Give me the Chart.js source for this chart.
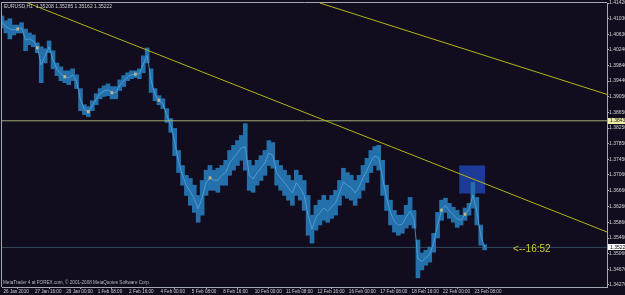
<!DOCTYPE html>
<html><head><meta charset="utf-8">
<script src="https://cdn.jsdelivr.net/npm/chart.js@4.4.0/dist/chart.umd.min.js"></script>
<style>html,body{margin:0;padding:0;background:#110d1f;overflow:hidden}canvas{display:block}</style>
</head><body><canvas id="c" width="625" height="295"></canvas>
<script>
// ---------- data ----------
const symbolTitle = "EURUSD,H1  1.35208 1.35285 1.35162 1.35222";
const copyright = "MetaTrader 4 at FOREX.com, \u00a9 2001-2008 MetaQuotes Software Corp.";
const timeLabels = ["26 Jan 2010","27 Jan 16:00","29 Jan 00:00","1 Feb 08:00","2 Feb 16:00","4 Feb 00:00","5 Feb 08:00","8 Feb 16:00","10 Feb 00:00","11 Feb 08:00","12 Feb 16:00","16 Feb 00:00","17 Feb 08:00","18 Feb 16:00","22 Feb 00:00","23 Feb 08:00"];
const timeLabelBars = [0,32,64,96,128,160,192,224,256,288,320,352,384,416,448,480];
const priceTicks = [1.4142,1.4103,1.4063,1.4024,1.3984,1.3944,1.3905,1.3865,1.3825,1.3785,1.3745,1.3706,1.3666,1.3626,1.3586,1.3546,1.3506,1.3467,1.3427];
// 4-hour high / low ranges, one entry every 4 H1 bars
const highs = [1.4109,1.4097,1.4102,1.4086,1.4086,1.4092,1.4076,1.4066,1.4061,1.4041,
1.4031,1.4026,1.4046,1.4021,1.3990,1.3980,1.3970,1.3970,1.3975,1.3960,
1.3925,1.3884,1.3879,1.3894,1.3912,1.3925,1.3932,1.3937,1.3930,1.3930,
1.3947,1.3958,1.3965,1.3970,1.3970,1.3975,1.4008,1.4028,1.3975,1.3925,
1.3907,1.3899,1.3874,1.3849,1.3824,1.3768,1.3730,1.3705,1.3697,1.3680,
1.3654,1.3692,1.3718,1.3730,1.3718,1.3723,1.3730,1.3743,1.3768,1.3781,
1.3793,1.3806,1.3836,1.3743,1.3730,1.3743,1.3755,1.3768,1.3793,1.3788,
1.3743,1.3730,1.3718,1.3705,1.3692,1.3718,1.3705,1.3692,1.3654,1.3604,
1.3629,1.3642,1.3654,1.3642,1.3654,1.3667,1.3692,1.3723,1.3712,1.3705,
1.3692,1.3705,1.3730,1.3748,1.3768,1.3778,1.3781,1.3743,1.3680,1.3642,
1.3616,1.3604,1.3604,1.3629,1.3649,1.3616,1.3541,1.3508,1.3515,1.3523,
1.3558,1.3611,1.3642,1.3647,1.3634,1.3624,1.3616,1.3604,1.3622,1.3634,
1.3687,1.3649,1.3579,1.3529];
const lows = [1.4079,1.4066,1.4051,1.4061,1.4066,1.4066,1.4021,1.4036,1.4031,1.4016,
1.3940,1.3990,1.4016,1.3975,1.3958,1.3945,1.3940,1.3935,1.3945,1.3925,
1.3869,1.3859,1.3854,1.3869,1.3884,1.3899,1.3905,1.3907,1.3899,1.3899,
1.3920,1.3930,1.3945,1.3950,1.3953,1.3950,1.3965,1.3990,1.3915,1.3894,
1.3884,1.3874,1.3839,1.3814,1.3755,1.3712,1.3680,1.3654,1.3629,1.3611,
1.3586,1.3604,1.3654,1.3667,1.3667,1.3662,1.3680,1.3680,1.3705,1.3718,
1.3730,1.3743,1.3718,1.3667,1.3662,1.3680,1.3692,1.3705,1.3730,1.3723,
1.3680,1.3667,1.3654,1.3642,1.3629,1.3654,1.3642,1.3616,1.3553,1.3533,
1.3566,1.3579,1.3591,1.3586,1.3596,1.3604,1.3629,1.3654,1.3647,1.3642,
1.3629,1.3647,1.3667,1.3687,1.3712,1.3730,1.3718,1.3654,1.3616,1.3579,
1.3561,1.3553,1.3558,1.3571,1.3579,1.3571,1.3445,1.3465,1.3477,1.3485,
1.3510,1.3546,1.3591,1.3611,1.3596,1.3586,1.3573,1.3579,1.3591,1.3604,
1.3622,1.3579,1.3528,1.3516];
const dojiBars = [4,9,16,22,28,34,40,53,112,118];
const barStep = 4;
const barIndex = highs.map((_, i) => i * barStep);
const trendMain = [{x:0,y:1.4168},{x:617,y:1.3561}];
const trendOuter = [{x:324,y:1.4142},{x:617,y:1.3910}];
const resistanceLevel = 1.38433;
const bidPrice = 1.35222;
const zoneBox = {x0:466, x1:492.4, top:1.3730, bottom:1.3659};
const countdown = {text:"<--16:52", x:521, y:1.3518};

// ---------- styling ----------
const BG = '#110d1f';
const FRAME = '#a4a8b0';
const FONT = '"Liberation Sans", Arial, sans-serif';
const X_MIN = 0, X_MAX = 616.7, Y_MIN = 1.34218, Y_MAX = 1.4142;

const decor = {
  id: 'decor',
  beforeDraw(chart) {
    const {ctx, width, height} = chart;
    ctx.save(); ctx.fillStyle = BG; ctx.fillRect(0, 0, width, height); ctx.restore();
  },
  beforeDatasetsDraw(chart) {
    const {ctx, chartArea: a, scales: {x, y}} = chart;
    ctx.save();
    ctx.beginPath(); ctx.rect(a.left, a.top, a.right - a.left, a.bottom - a.top); ctx.clip();
    const x0 = x.getPixelForValue(zoneBox.x0), x1 = x.getPixelForValue(zoneBox.x1);
    const y0 = y.getPixelForValue(zoneBox.top), y1 = y.getPixelForValue(zoneBox.bottom);
    ctx.fillStyle = '#1c3a96';
    ctx.fillRect(x0, y0, x1 - x0, y1 - y0);
    ctx.restore();
  },
  afterDraw(chart) {
    const {ctx, chartArea: a, scales: {x, y}, width} = chart;
    ctx.save();
    ctx.strokeStyle = FRAME; ctx.lineWidth = 1;
    ctx.beginPath();
    ctx.moveTo(a.left - 0.5, a.bottom); ctx.lineTo(a.left - 0.5, a.top - 0.5); ctx.lineTo(a.right, a.top - 0.5);
    ctx.stroke();
    ctx.fillStyle = '#d0d0d0';
    ctx.font = '5px ' + FONT;
    ctx.textBaseline = 'middle'; ctx.textAlign = 'left';
    ctx.fillText(symbolTitle, a.left + 2, a.top + 3.5);
    ctx.fillStyle = '#b8b8c0';
    ctx.font = '4.6px ' + FONT;
    ctx.fillText(copyright, a.left + 1, a.bottom - 4);
    ctx.fillStyle = '#cccc30';
    ctx.font = '10px ' + FONT;
    ctx.fillText(countdown.text, x.getPixelForValue(countdown.x), y.getPixelForValue(countdown.y));
    const tag = (v, bg, fg) => {
      const py = y.getPixelForValue(v);
      ctx.fillStyle = bg;
      ctx.fillRect(a.right + 1, Math.round(py) - 3, width - a.right, 6);
      ctx.fillStyle = fg;
      ctx.font = '5px ' + FONT;
      ctx.fillText(v.toFixed(5), a.right + 3, py);
    };
    tag(resistanceLevel, '#eeeea8', '#202020');
    tag(bidPrice, '#ffffff', '#000000');
    ctx.restore();
  }
};

const midOf = i => (lows[i] + highs[i]) / 2;

new Chart(document.getElementById('c'), {
  data: {
    datasets: [
      { type: 'line', data: trendMain, borderColor: '#b4b414', borderWidth: 1, pointRadius: 0, clip: 0, order: 1 },
      { type: 'line', data: trendOuter, borderColor: '#b4b414', borderWidth: 1, pointRadius: 0, clip: 0, order: 1 },
      { type: 'line', data: [{x:X_MIN,y:resistanceLevel},{x:X_MAX,y:resistanceLevel}], borderColor: '#a0ac70', borderWidth: 1, pointRadius: 0, clip: 0, order: 1 },
      { type: 'line', data: [{x:X_MIN,y:bidPrice},{x:X_MAX,y:bidPrice}], borderColor: '#34495a', borderWidth: 1, pointRadius: 0, clip: 0, order: 5 },
      { type: 'bar', data: dojiBars.map(i => ({x: barIndex[i], y: [midOf(i) - 0.0003, midOf(i) + 0.0003]})),
        backgroundColor: '#c4b48c', barThickness: 2, grouped: false, order: 2 },
      { type: 'line', data: barIndex.map((b, i) => ({x: b, y: midOf(i)})), borderColor: 'rgba(90,170,225,0.75)',
        borderWidth: 1, pointRadius: 0, clip: 0, order: 3 },
      { type: 'bar', data: barIndex.map((b, i) => ({x: b, y: [lows[i], highs[i]]})),
        backgroundColor: '#2470aa', barThickness: 4, grouped: false, order: 4 }
    ]
  },
  options: {
    responsive: false, animation: false, devicePixelRatio: 1,
    layout: { padding: { left: 2, top: 2, right: 0, bottom: 0 } },
    plugins: { legend: { display: false }, tooltip: { enabled: false } },
    scales: {
      x: {
        type: 'linear', min: X_MIN, max: X_MAX, offset: false,
        afterBuildTicks: s => { s.ticks = timeLabelBars.map(v => ({value: v})); },
        afterFit: s => { s.height = 8; },
        ticks: { autoSkip: false, maxRotation: 0, align: 'start', labelOffset: 1.5, padding: 0,
          color: '#d0d0d0', font: { size: 4.6, family: FONT },
          callback: (v, i) => timeLabels[i] },
        grid: { drawOnChartArea: false, tickLength: 2, tickColor: FRAME },
        border: { color: FRAME }
      },
      y: {
        type: 'linear', position: 'right', min: Y_MIN, max: Y_MAX,
        afterBuildTicks: s => { s.ticks = priceTicks.map(v => ({value: v})); },
        afterFit: s => { s.width = 18; },
        ticks: { autoSkip: false, padding: 0, color: '#d0d0d0', font: { size: 5, family: FONT },
          callback: v => Number(v).toFixed(5) },
        grid: { drawOnChartArea: false, tickLength: 2, tickColor: FRAME },
        border: { color: FRAME }
      }
    }
  },
  plugins: [decor]
});
</script></body></html>
